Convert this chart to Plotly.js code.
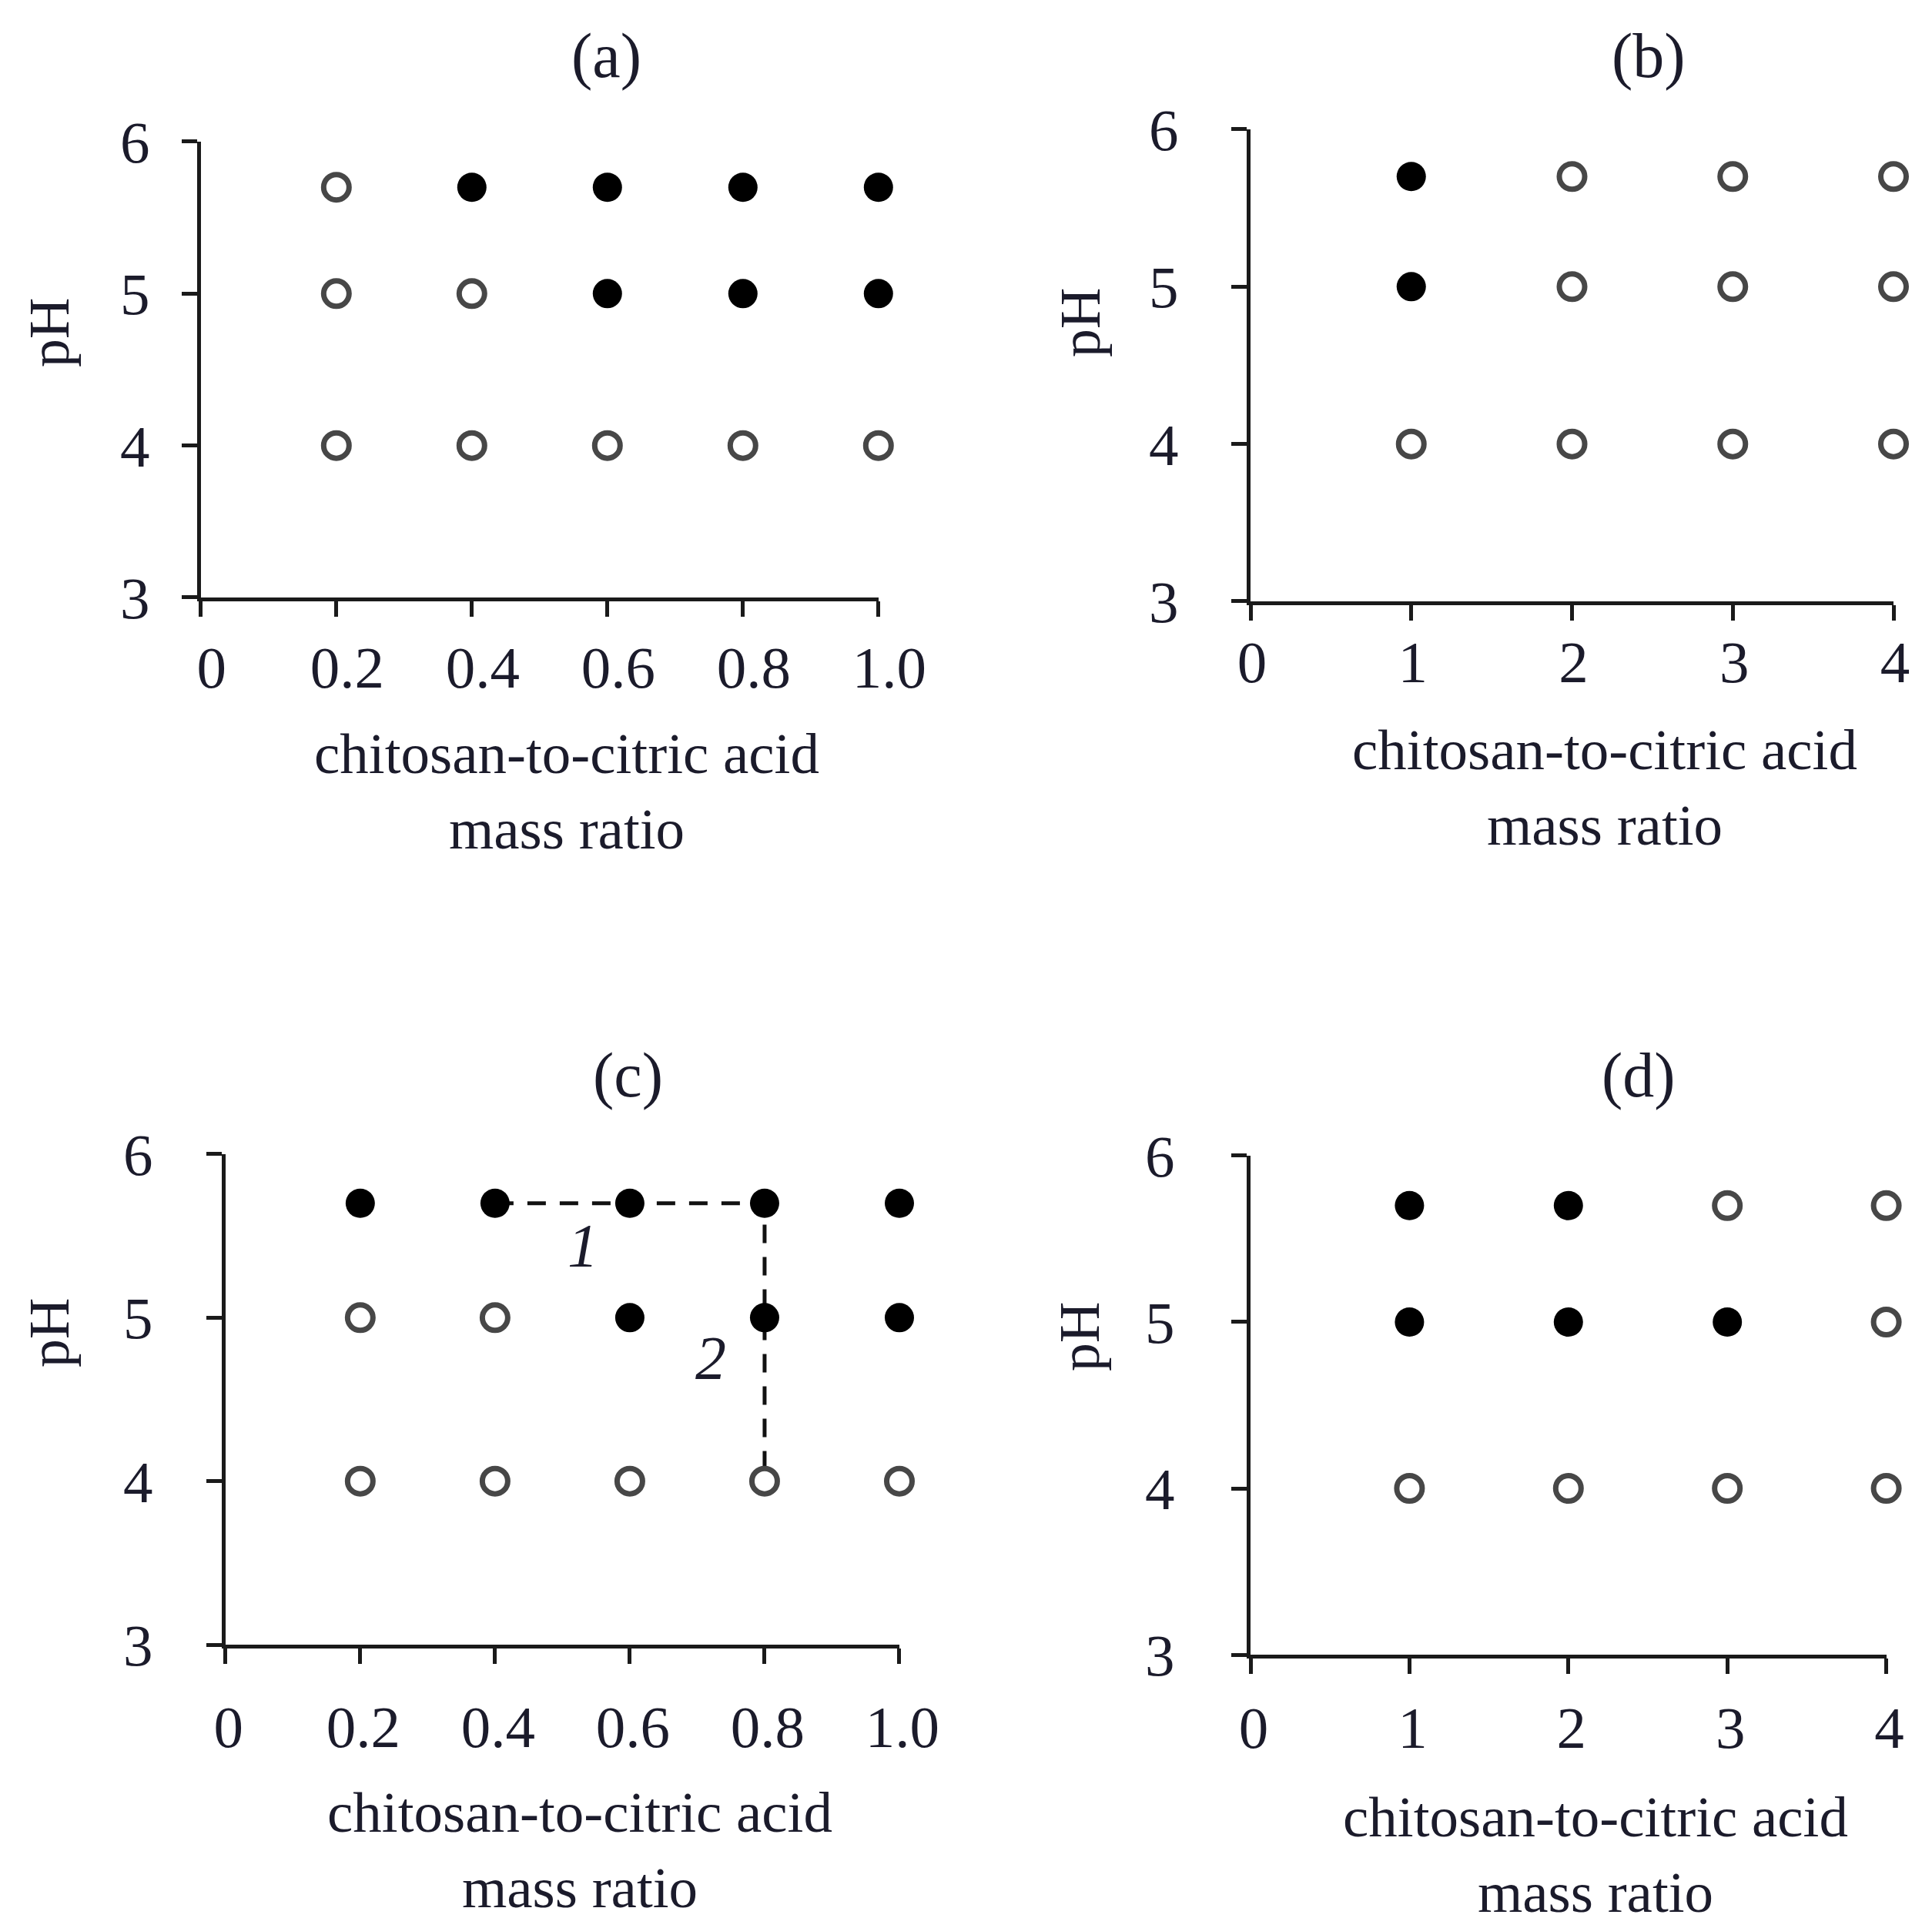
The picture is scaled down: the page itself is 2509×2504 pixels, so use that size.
<!DOCTYPE html>
<html>
<head>
<meta charset="utf-8">
<script src="https://cdn.plot.ly/plotly-3.0.1.min.js"></script>
<style>html,body{margin:0;padding:0;background:#fff;}#chart{width:2509px;height:2504px;}</style>
</head>
<body>
<div id="chart"></div>
<script>
// ---- Data ----
const panelLabels = ["(a)", "(b)", "(c)", "(d)"];
const xTitleText = "chitosan-to-citric acid<br>mass ratio";
const yTitleText = "pH";

const ratioTicksSmall = [0, 0.2, 0.4, 0.6, 0.8, 1.0];
const ratioTickTextSmall = ["0", "0.2", "0.4", "0.6", "0.8", "1.0"];
const ratioTicksLarge = [0, 1, 2, 3, 4];
const ratioTickTextLarge = ["0", "1", "2", "3", "4"];
const pHTicks = [3, 4, 5, 6];

// Panel (a)
const aFilledX = [0.4, 0.6, 0.8, 1.0, 0.6, 0.8, 1.0];
const aFilledY = [5.7, 5.7, 5.7, 5.7, 5.0, 5.0, 5.0];
const aOpenX = [0.2, 0.2, 0.4, 0.2, 0.4, 0.6, 0.8, 1.0];
const aOpenY = [5.7, 5.0, 5.0, 4.0, 4.0, 4.0, 4.0, 4.0];

// Panel (b)
const bFilledX = [1, 1];
const bFilledY = [5.7, 5.0];
const bOpenX = [2, 3, 4, 2, 3, 4, 1, 2, 3, 4];
const bOpenY = [5.7, 5.7, 5.7, 5.0, 5.0, 5.0, 4.0, 4.0, 4.0, 4.0];

// Panel (c)
const cFilledX = [0.2, 0.4, 0.6, 0.8, 1.0, 0.6, 0.8, 1.0];
const cFilledY = [5.7, 5.7, 5.7, 5.7, 5.7, 5.0, 5.0, 5.0];
const cOpenX = [0.2, 0.4, 0.2, 0.4, 0.6, 0.8, 1.0];
const cOpenY = [5.0, 5.0, 4.0, 4.0, 4.0, 4.0, 4.0];
const cPathX = [0.4, 0.8, 0.8];
const cPathY = [5.7, 5.7, 4.08];
const cPathLabels = ["1", "2"];
const cPathLabelX = [0.53, 0.72];
const cPathLabelY = [5.44, 4.75];

// Panel (d)
const dFilledX = [1, 2, 1, 2, 3];
const dFilledY = [5.7, 5.7, 5.0, 5.0, 5.0];
const dOpenX = [3, 4, 4, 1, 2, 3, 4];
const dOpenY = [5.7, 5.7, 5.0, 4.0, 4.0, 4.0, 4.0];

// ---- Styles ----
const FONT = "Liberation Serif, Times New Roman, serif";
const TXT = "#1b1b2b";
const AXC = "#1a1a1a";

function filled(x, y, xa, ya) {
  return {x: x, y: y, xaxis: xa, yaxis: ya, type: "scatter", mode: "markers",
    cliponaxis: false, showlegend: false, hoverinfo: "x+y",
    marker: {symbol: "circle", size: 38, color: "#000000", line: {width: 0}}};
}
function openPts(x, y, xa, ya) {
  return {x: x, y: y, xaxis: xa, yaxis: ya, type: "scatter", mode: "markers",
    cliponaxis: false, showlegend: false, hoverinfo: "x+y",
    marker: {symbol: "circle-open", size: 33, color: "#474747", line: {width: 7, color: "#474747"}}};
}

const traces = [
  filled(aFilledX, aFilledY, "x", "y"),
  openPts(aOpenX, aOpenY, "x", "y"),
  filled(bFilledX, bFilledY, "x2", "y2"),
  openPts(bOpenX, bOpenY, "x2", "y2"),
  {x: cPathX, y: cPathY, xaxis: "x3", yaxis: "y3", type: "scatter", mode: "lines",
    cliponaxis: false, showlegend: false, hoverinfo: "skip",
    line: {color: "#111111", width: 5, dash: "24px,18px"}},
  filled(cFilledX, cFilledY, "x3", "y3"),
  openPts(cOpenX, cOpenY, "x3", "y3"),
  filled(dFilledX, dFilledY, "x4", "y4"),
  openPts(dOpenX, dOpenY, "x4", "y4")
];

function xAxis(domain, anchor, range, tv, tt, labStand, shift) {
  return {domain: domain, anchor: anchor, range: range, fixedrange: true,
    showline: true, linecolor: AXC, linewidth: 5, mirror: false,
    showgrid: false, zeroline: false,
    ticks: "outside", ticklen: 20, tickwidth: 5, tickcolor: AXC,
    tickmode: "array", tickvals: tv, ticktext: tt,
    ticklabelstandoff: labStand, ticklabelshift: shift,
    tickfont: {family: FONT, size: 77, color: TXT}};
}
function yAxis(domain, anchor, labStand) {
  return {domain: domain, anchor: anchor, range: [3, 6], fixedrange: true,
    showline: true, linecolor: AXC, linewidth: 5, mirror: false,
    showgrid: false, zeroline: false,
    ticks: "outside", ticklen: 20, tickwidth: 5, tickcolor: AXC,
    tickmode: "array", tickvals: pHTicks, ticktext: pHTicks.map(String),
    ticklabelstandoff: labStand,
    tickfont: {family: FONT, size: 77, color: TXT}};
}

const panelPos = [[0.3137, 0.9712], [0.8533, 0.9712], [0.3252, 0.4421], [0.8481, 0.4421]];
const xTitlePos = [[0.2933, 0.5895], [0.8306, 0.5918], [0.3001, 0.0406], [0.8258, 0.0383]];
const yTitlePos = [[0.0255, 0.8275], [0.5592, 0.8327], [0.0255, 0.3087], [0.5588, 0.3067]];

const annotations = [];
panelLabels.forEach((t, i) => {
  annotations.push({
    text: t, xref: "paper", yref: "paper", x: panelPos[i][0], y: panelPos[i][1],
    xanchor: "center", yanchor: "middle", showarrow: false,
    font: {family: FONT, size: 82, color: TXT}
  });
  annotations.push({
    text: xTitleText, xref: "paper", yref: "paper", x: xTitlePos[i][0], y: xTitlePos[i][1],
    xanchor: "center", yanchor: "middle", showarrow: false, align: "center",
    font: {family: FONT, size: 75, color: TXT}
  });
  annotations.push({
    text: yTitleText, xref: "paper", yref: "paper", x: yTitlePos[i][0], y: yTitlePos[i][1],
    xanchor: "center", yanchor: "middle", showarrow: false, textangle: -90,
    font: {family: FONT, size: 74, color: TXT}
  });
});
cPathLabels.forEach((t, i) => annotations.push({
  text: "<i>" + t + "</i>", xref: "x3", yref: "y3", x: cPathLabelX[i], y: cPathLabelY[i],
  xanchor: "center", yanchor: "middle", showarrow: false,
  font: {family: FONT, size: 80, color: TXT}
}));

const layout = {
  width: 2509, height: 2504,
  margin: {l: 0, r: 0, t: 0, b: 0},
  paper_bgcolor: "#ffffff", plot_bgcolor: "#ffffff",
  showlegend: false,
  xaxis: xAxis([0.10395, 0.45468], "y", [0, 1], ratioTicksSmall, ratioTickTextSmall, 0, 14),
  yaxis: yAxis([0.69010, 0.92652], "x", 26),
  xaxis2: xAxis([0.64727, 0.98007], "y2", [0, 4], ratioTicksLarge, ratioTickTextLarge, -12, 2),
  yaxis2: yAxis([0.68810, 0.93291], "x2", 53),
  xaxis3: xAxis([0.11670, 0.46552], "y3", [0, 1], ratioTicksSmall, ratioTickTextSmall, 16, 4),
  yaxis3: yAxis([0.14696, 0.40136], "x3", 54),
  xaxis4: xAxis([0.64727, 0.97632], "y4", [0, 4], ratioTicksLarge, ratioTickTextLarge, 4, 4),
  yaxis4: yAxis([0.14177, 0.40056], "x4", 58),
  annotations: annotations
};

Plotly.newPlot("chart", traces, layout, {staticPlot: true, displayModeBar: false});
</script>
</body>
</html>
